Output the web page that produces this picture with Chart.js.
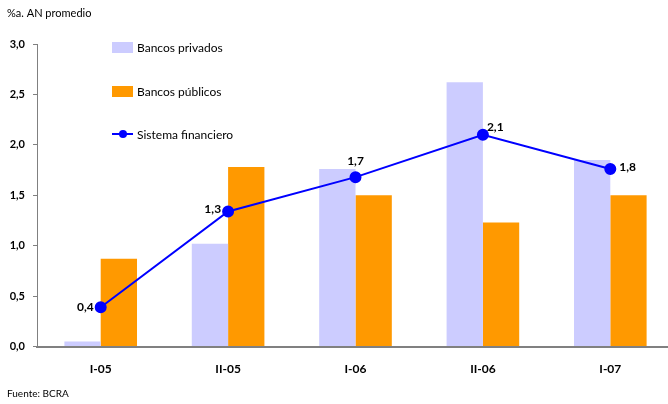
<!DOCTYPE html>
<html>
<head>
<meta charset="utf-8">
<script src="https://cdn.jsdelivr.net/npm/chart.js@4/dist/chart.umd.min.js"></script>
<style>
  html, body { margin: 0; padding: 0; background: #fff; overflow: hidden; }
  body { width: 700px; }
  #wrap { width: 676px; height: 404px; }
  #c { width: 676px; height: 404px; display: block; }
</style>
</head>
<body>
<div id="wrap"><canvas id="c" width="676" height="404"></canvas></div>
<script>
// Semesters
const categories = ['I-05', 'II-05', 'I-06', 'II-06', 'I-07'];
// Return on assets, % annualised
const bancosPrivados = [0.05, 1.02, 1.76, 2.62, 1.85];
const bancosPublicos = [0.87, 1.78, 1.50, 1.23, 1.50];
const sistemaFinanciero = [0.39, 1.34, 1.68, 2.10, 1.76];
const yTicks = [0, 0.5, 1, 1.5, 2, 2.5, 3];

const FONT = 'Lato, "DejaVu Sans", sans-serif';
const fmt = v => v.toFixed(1).replace('.', ',');

// where each point label sits relative to its marker
const labelPlacement = [
  { dx: -7, dy: 0, align: 'right' },
  { dx: -7, dy: -2, align: 'right' },
  { dx: 0, dy: -16, align: 'center' },
  { dx: 4, dy: -8, align: 'left' },
  { dx: 9, dy: -2, align: 'left' }
];

const extras = {
  id: 'extras',
  afterDraw(chart) {
    const ctx = chart.ctx;
    ctx.save();
    // header and source note
    ctx.fillStyle = '#000';
    ctx.textBaseline = 'middle';
    ctx.textAlign = 'left';
    ctx.font = '11px ' + FONT;
    ctx.fillText('%a. AN promedio', 7, 13);
    ctx.font = '10px ' + FONT;
    ctx.fillText('Fuente: BCRA', 7, 394);

    // point labels on the line
    const meta = chart.getDatasetMeta(2);
    ctx.font = 'bold 12px ' + FONT;
    meta.data.forEach((pt, i) => {
      const p = labelPlacement[i];
      ctx.textAlign = p.align;
      ctx.fillText(fmt(chart.data.datasets[2].data[i]), pt.x + p.dx, pt.y + p.dy);
    });

    // legend stacked inside the plot
    const lx = 112, rows = [47, 91, 134];
    ctx.font = '12px ' + FONT;
    ctx.textAlign = 'left';
    chart.data.datasets.forEach((ds, i) => {
      const y = rows[i];
      if (ds.type === 'line') {
        ctx.strokeStyle = ds.borderColor;
        ctx.lineWidth = 2;
        ctx.beginPath();
        ctx.moveTo(lx, y); ctx.lineTo(lx + 21, y); ctx.stroke();
        ctx.fillStyle = ds.pointBackgroundColor;
        ctx.beginPath();
        ctx.arc(lx + 11, y, 4, 0, Math.PI * 2); ctx.fill();
      } else {
        ctx.fillStyle = ds.backgroundColor;
        ctx.fillRect(lx, y - 5, 21, 11);
      }
      ctx.fillStyle = '#000';
      ctx.fillText(ds.label, lx + 25, y + 1);
    });
    ctx.restore();
  }
};

new Chart(document.getElementById('c'), {
  data: {
    labels: categories,
    datasets: [
      { type: 'bar', label: 'Bancos privados', data: bancosPrivados, backgroundColor: '#CCCCFF', order: 1 },
      { type: 'bar', label: 'Bancos públicos', data: bancosPublicos, backgroundColor: '#FF9900', order: 2 },
      { type: 'line', label: 'Sistema financiero', data: sistemaFinanciero, borderColor: '#0000FF',
        backgroundColor: '#0000FF', pointBackgroundColor: '#0000FF', pointBorderColor: '#0000FF',
        borderWidth: 2, pointRadius: 5, tension: 0, order: 0 }
    ]
  },
  options: {
    responsive: false,
    animation: false,
    layout: { autoPadding: false, padding: { top: 44, bottom: 21, left: 0, right: 2 } },
    datasets: { bar: { categoryPercentage: 0.57, barPercentage: 1 } },
    plugins: { legend: { display: false }, tooltip: { enabled: false } },
    scales: {
      x: {
        afterFit(s) { s.paddingRight = 0; s.paddingLeft = 0; },
        grid: { display: false },
        border: { color: '#808080', width: 2 },
        ticks: { color: '#000', font: { family: FONT, size: 12, weight: 'bold' }, padding: 7 }
      },
      y: {
        min: 0, max: 3,
        afterFit(s) { s.width = 37; },
        afterBuildTicks(s) { s.ticks = yTicks.map(v => ({ value: v })); },
        grid: { drawOnChartArea: false, tickLength: 4, color: '#808080' },
        border: { color: '#808080', width: 1 },
        ticks: { color: '#000', font: { family: FONT, size: 11, weight: 'bold' }, padding: 8,
                 callback: v => fmt(v) }
      }
    }
  },
  plugins: [extras]
});
</script>
</body>
</html>
